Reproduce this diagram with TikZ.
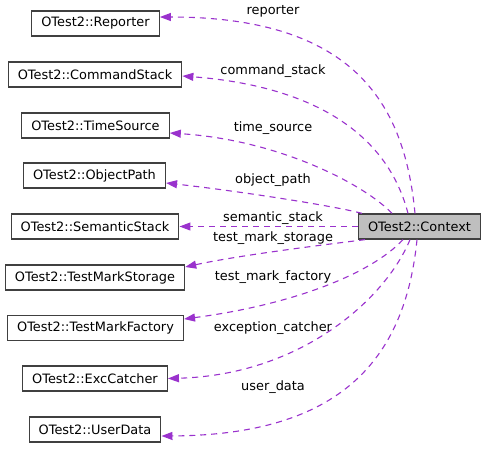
\documentclass[tikz,border=0pt]{standalone}
\usepackage{fontspec}
\setmainfont{DejaVu Sans}
\usetikzlibrary{arrows.meta}
\definecolor{linkpurple}{HTML}{9A32CD}
\definecolor{ctxgray}{HTML}{BFBFBF}
\definecolor{framegray}{HTML}{404040}

\begin{document}
\begin{tikzpicture}[x=1pt,y=-1pt,
    font=\fontsize{12.9}{15}\selectfont,
    cls/.style={draw=framegray,line width=1.3pt,minimum height=25pt,
      inner xsep=9.5pt,inner ysep=0pt},
    member/.style={draw=linkpurple,line width=1.1pt,dash pattern=on 6pt off 5pt,
      -{Triangle[length=11pt,width=8pt]}}]
      \useasboundingbox (0,0) rectangle (487,448);
      % classes on the left
      \node[cls] (rep) at (95.5,23.5) {OTest2::Reporter};
      \node[cls] (cmd) at (95,74.5) {OTest2::CommandStack};
      \node[cls] (time) at (95.5,125.5) {OTest2::TimeSource};
      \node[cls] (obj) at (94.5,175.5) {OTest2::ObjectPath};
      \node[cls] (sem) at (95,226.5) {OTest2::SemanticStack};
      \node[cls] (stor) at (95,277.5) {OTest2::TestMarkStorage};
      \node[cls] (fac) at (95.5,328) {OTest2::TestMarkFactory};
      \node[cls] (exc) at (95,378.5) {OTest2::ExcCatcher};
      \node[cls] (usr) at (95,429.5) {OTest2::UserData};
      % the class itself
      \node[cls,fill=ctxgray] (ctx) at (419.5,226.5) {OTest2::Context};
      % members leaving the top of (ctx)
      \draw[member] ([xshift=-4.5pt]ctx.north) .. controls (405,110) and (360,17) .. ([yshift=6.5pt]rep.east);
      \draw[member] ([xshift=-11.5pt]ctx.north) .. controls (385,125) and (300,85) .. ([yshift=-1.5pt]cmd.east);
      \draw[member] ([xshift=-27.5pt]ctx.north) .. controls (365,185) and (280,140) .. ([yshift=-7.5pt]time.east);
      \draw[member] ([xshift=-57.5pt]ctx.north) .. controls (330,205) and (230,190) .. ([yshift=-7.5pt]obj.east);
      % straight member
      \draw[member] (ctx.west) -- (sem.east);
      % members leaving the bottom of (ctx)
      \draw[member] ([xshift=-54.5pt]ctx.south) .. controls (330,244) and (240,255) .. ([yshift=10.5pt]stor.east);
      \draw[member] ([xshift=-16.5pt]ctx.south) .. controls (370,275) and (290,305) .. ([yshift=9pt]fac.east);
      \draw[member] ([xshift=-9.5pt]ctx.south) .. controls (385,300) and (300,375) .. (exc.east);
      \draw[member] ([xshift=-2.5pt]ctx.south) .. controls (405,360) and (340,435) .. ([yshift=-6.5pt]usr.east);
      % member names
      \node (lrep) at (273,11) {reporter};
      \node (lcmd) at (273,71) {command\_stack};
      \node (ltime) at (273,128) {time\_source};
      \node (lobj) at (273,180) {object\_path};
      \node (lsem) at (273,218) {semantic\_stack};
      \node (lstor) at (273,238) {test\_mark\_storage};
      \node (lfac) at (273,277) {test\_mark\_factory};
      \node (lexc) at (273,328) {exception\_catcher};
      \node (lusr) at (273,387) {user\_data};
    \end{tikzpicture}
\end{document}
